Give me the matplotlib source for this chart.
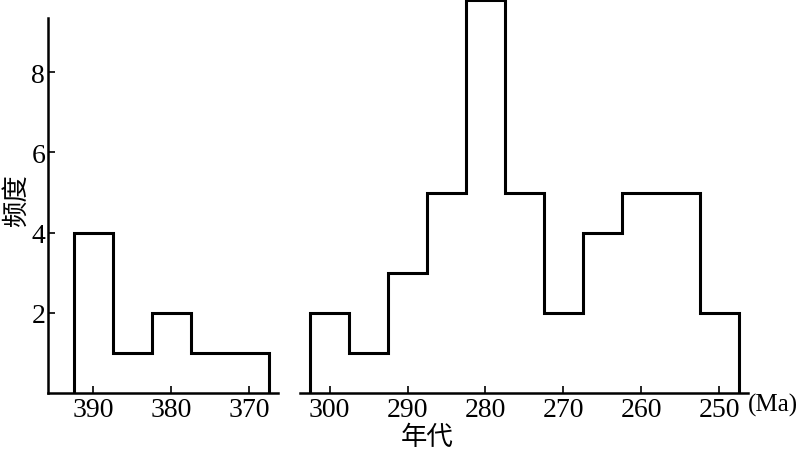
import matplotlib.pyplot as plt

# 左段 (泥盆纪) 与右段 (二叠纪) 年龄直方图, 组距 5 Ma
left_edges = [392.5, 387.5, 382.5, 377.5, 372.5, 367.5]
left_counts = [4, 1, 2, 1, 1]
right_edges = [302.5, 297.5, 292.5, 287.5, 282.5, 277.5, 272.5, 267.5, 262.5, 257.5, 252.5, 247.5]
right_counts = [2, 1, 3, 5, 9.8, 5, 2, 4, 5, 5, 2]

left_ticks = [390, 380, 370]
right_ticks = [300, 290, 280, 270, 260, 250]
y_ticks = [2, 4, 6, 8]

plt.rcParams['font.family'] = ['Liberation Serif', 'Noto Sans CJK SC']
plt.rcParams['font.size'] = 20

fig = plt.figure(figsize=(8, 4.56), dpi=100)
ax1 = fig.add_axes([0.06, 0.136, 0.2875, 0.822])
ax2 = fig.add_axes([0.375, 0.136, 0.56, 0.822], sharey=ax1)

ax1.stairs(left_counts, left_edges, baseline=0, fill=False, color='black', lw=2.2, clip_on=False)
ax2.stairs(right_counts, right_edges, baseline=0, fill=False, color='black', lw=2.2, clip_on=False)

ax1.set_xlim(395.8, 366.3)
ax2.set_xlim(303.8, 246.3)
ax1.set_ylim(0, 9.35)

for ax in (ax1, ax2):
    ax.spines['top'].set_visible(False)
    ax.spines['right'].set_visible(False)
    ax.spines['bottom'].set_linewidth(1.8)
    ax.tick_params(direction='in', length=5, width=1.2, pad=3)
ax1.spines['left'].set_linewidth(1.8)
ax2.spines['left'].set_visible(False)
ax2.tick_params(axis='y', left=False, labelleft=False)

ax1.set_xticks(left_ticks)
ax2.set_xticks(right_ticks)
ax1.set_yticks(y_ticks)
ax1.tick_params(axis='y', pad=2)

fig.text(0.02, 0.56, '频度', rotation=90, ha='center', va='center',
         family=['Noto Sans CJK SC'], fontsize=19)
fig.text(0.534, 0.04, '年代', ha='center', va='center',
         family=['Noto Sans CJK SC'], fontsize=19)
fig.text(0.998, 0.11, '(Ma)', ha='right', va='center', fontsize=18)

fig.savefig('out.png', dpi=100)
